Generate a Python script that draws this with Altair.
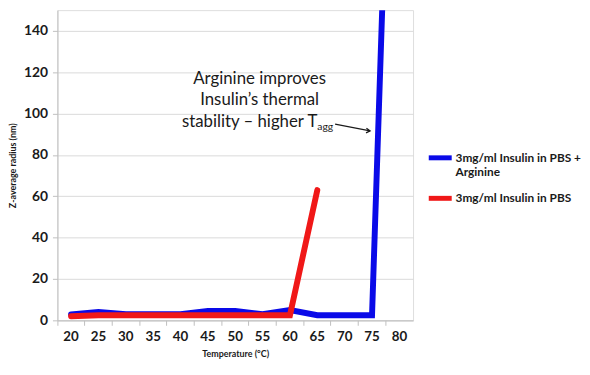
import altair as alt
import pandas as pd

temps = ["20", "25", "30", "35", "40", "45", "50", "55", "60", "65", "70", "75", "80"]
arg_vals = [2.8, 4, 3, 3, 3, 4.5, 4.5, 3, 5, 2.5, 2.5, 2.5, 400]
pbs_vals = [2, 2.5, 2.5, 2.5, 2.5, 2.5, 2.5, 2.5, 2.5, 63]
series = ["3mg/ml Insulin in PBS + Arginine", "3mg/ml Insulin in PBS"]
colors = ["#0a0ae8", "#f01818"]

rows = []
for t, v in zip(temps, arg_vals):
    rows.append({"temp": t, "value": v, "series": series[0]})
for t, v in zip(temps, pbs_vals):
    rows.append({"temp": t, "value": v, "series": series[1]})
df = pd.DataFrame(rows)

FONT = "Lato"
INK = "#1a1a1a"

x_enc = alt.X("temp:O", sort=temps, scale=alt.Scale(domain=temps, paddingInner=0, paddingOuter=0),
              axis=alt.Axis(title="Temperature (°C)", labelAngle=0, bandPosition=0,
                            grid=False, domainColor="#bfbfbf", tickColor="#bfbfbf", tickSize=5,
                            labelFont=FONT, labelFontSize=13.5, labelFontWeight="bold", labelColor=INK,
                            labelPadding=4, titleFont=FONT, titleFontSize=9, titleFontWeight="bold",
                            titleColor=INK, titlePadding=7))
y_enc = alt.Y("value:Q", scale=alt.Scale(domain=[0, 150], nice=False),
              axis=alt.Axis(title="Z-average radius (nm)", values=[0, 20, 40, 60, 80, 100, 120, 140],
                            gridColor="#d9d9d9", domainColor="#bfbfbf", tickColor="#bfbfbf", tickSize=5,
                            labelFont=FONT, labelFontSize=14, labelFontWeight="bold", labelColor=INK,
                            labelPadding=5, titleFont=FONT, titleFontSize=9, titleFontWeight="bold",
                            titleColor=INK, titlePadding=6))
color_enc = alt.Color("series:N", scale=alt.Scale(domain=series, range=colors),
                      legend=alt.Legend(title=None, orient="none", legendX=373, legendY=135,
                                        symbolType="stroke", symbolStrokeWidth=5, symbolSize=540,
                                        labelFont=FONT, labelFontSize=12, labelFontWeight="bold",
                                        labelColor=INK, labelLimit=300, rowPadding=6, labelOffset=1,
                                        labelExpr="datum.label == '3mg/ml Insulin in PBS + Arginine' ? ['3mg/ml Insulin in PBS +', 'Arginine'] : datum.label"))

base = alt.Chart(df)
blue = base.transform_filter(alt.datum.series == series[0]).mark_line(strokeWidth=6, clip=True, strokeCap="round").encode(x=x_enc, y=y_enc, color=color_enc)
red = base.transform_filter(alt.datum.series == series[1]).mark_line(strokeWidth=6, clip=True, strokeCap="round").encode(x=x_enc, y=y_enc, color=color_enc)

ann_temp = ["55", "55"]
ann_val = [116.8, 106.3]
ann_text = ["Arginine improves", "Insulin\u2019s thermal"]
ann = pd.DataFrame({"temp": ann_temp, "value": ann_val, "text": ann_text})
t12 = alt.Chart(ann).mark_text(font=FONT, fontSize=17, color=INK, align="center", dx=-3).encode(
    x=alt.X("temp:O", sort=temps), y="value:Q", text="text:N")
l3 = pd.DataFrame({"temp": ["65"], "value": [95.9], "text": ["stability \u2013 higher T"]})
t3 = alt.Chart(l3).mark_text(font=FONT, fontSize=17, color=INK, align="right", dx=0).encode(
    x=alt.X("temp:O", sort=temps), y="value:Q", text="text:N")
sub = pd.DataFrame({"temp": ["65"], "value": [95.9], "text": ["agg"]})
tsub = alt.Chart(sub).mark_text(font=FONT, fontSize=10.5, color=INK, align="left", dx=0, dy=5).encode(
    x=alt.X("temp:O", sort=temps), y="value:Q", text="text:N")

arrow_df = pd.DataFrame({"temp": ["65"], "value": [94.9], "temp2": ["75"], "value2": [91.6]})
arrow = alt.Chart(arrow_df).mark_rule(color=INK, strokeWidth=1.2, xOffset=18, x2Offset=-2).encode(
    x=alt.X("temp:O", sort=temps), y="value:Q", x2="temp2:O", y2="value2:Q")
head = alt.Chart(arrow_df).mark_point(shape="M -1 -0.6 L 0 0 L -1 0.6", filled=False, size=60,
                                       strokeWidth=1.3, color=INK, angle=5, opacity=1, xOffset=-2).encode(
    x=alt.X("temp2:O", sort=temps), y="value2:Q")

chart = alt.layer(blue, red, t12, t3, tsub, arrow, head).properties(
    width=360, height=314, padding={"left": 0, "top": 0, "right": 0, "bottom": 0}
).configure_view(stroke=None).configure(background="white")

chart.save("out.html", embed_options={"renderer": "svg", "actions": False})
